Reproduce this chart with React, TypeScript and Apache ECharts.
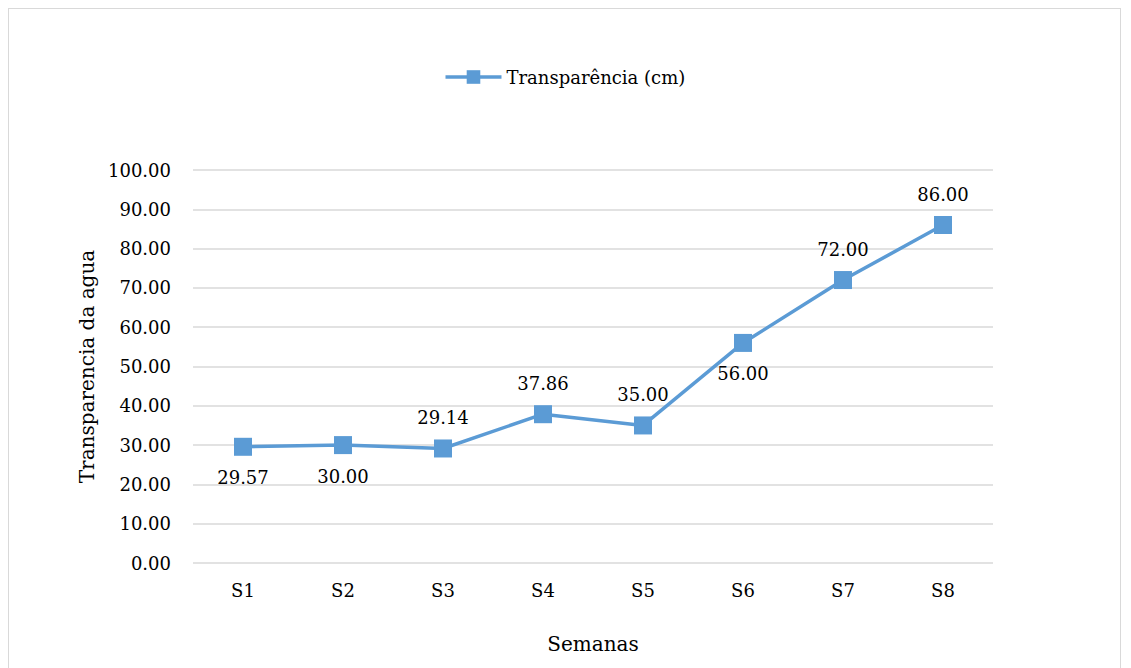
import React, { useEffect, useRef } from "react";
import * as echarts from "echarts";

const categories = ["S1", "S2", "S3", "S4", "S5", "S6", "S7", "S8"];
const values = [29.57, 30.0, 29.14, 37.86, 35.0, 56.0, 72.0, 86.0];
const labelPositions = ["bottom", "bottom", "top", "top", "top", "bottom", "top", "top"];
const seriesName = "Transparência (cm)";
const yTitle = "Transparencia da agua";
const xTitle = "Semanas";

const FONT = "DejaVu Serif";
const FS = 18;
const TITLE_FS = 20;

export default function App() {
  const ref = useRef<HTMLDivElement>(null);
  useEffect(() => {
    if (!ref.current) return;
    const chart = echarts.init(ref.current, undefined, { renderer: "svg" });
    chart.setOption({
      animation: false,
      textStyle: { fontFamily: FONT },
      legend: {
        top: 54,
        left: "center",
        itemWidth: 56,
        itemHeight: 17,
        itemGap: 8,
        lineStyle: { width: 3.5 },
        textStyle: { fontFamily: FONT, fontSize: FS, color: "#000" },
        data: [seriesName],
      },
      grid: { left: 184, right: 127, top: 161, bottom: 136 },
      xAxis: {
        type: "category",
        data: categories,
        boundaryGap: true,
        name: xTitle,
        nameLocation: "middle",
        nameGap: 71,
        nameTextStyle: { fontFamily: FONT, fontSize: TITLE_FS, color: "#000" },
        axisLine: { show: false },
        axisTick: { show: false },
        axisLabel: { fontFamily: FONT, fontSize: FS, color: "#000", margin: 18 },
      },
      yAxis: {
        type: "value",
        min: 0,
        max: 100,
        interval: 10,
        name: yTitle,
        nameLocation: "middle",
        nameGap: 92,
        nameTextStyle: { fontFamily: FONT, fontSize: TITLE_FS, color: "#000" },
        axisLine: { show: false },
        axisTick: { show: false },
        axisLabel: {
          fontFamily: FONT,
          fontSize: FS,
          color: "#000",
          margin: 22,
          formatter: (v: number) => v.toFixed(2),
        },
        splitLine: { lineStyle: { color: "#d9d9d9", width: 1.5 } },
      },
      series: [
        {
          name: seriesName,
          type: "line",
          data: values.map((v, i) => ({
            value: v,
            label: { position: labelPositions[i] },
          })),
          symbol: "rect",
          symbolSize: 18,
          itemStyle: { color: "#5b9bd5" },
          lineStyle: { color: "#5b9bd5", width: 3.5 },
          label: {
            show: true,
            fontFamily: FONT,
            fontSize: FS,
            color: "#000",
            distance: 13,
            formatter: (p: any) => Number(p.value).toFixed(2),
          },
        },
      ],
    });
    return () => chart.dispose();
  }, []);
  return (
    <div
      style={{
        width: 1111,
        height: 690,
        border: "1.5px solid #d9d9d9",
        boxSizing: "content-box",
      }}
    >
      <div ref={ref} style={{ width: 1111, height: 690 }} />
    </div>
  );
}
